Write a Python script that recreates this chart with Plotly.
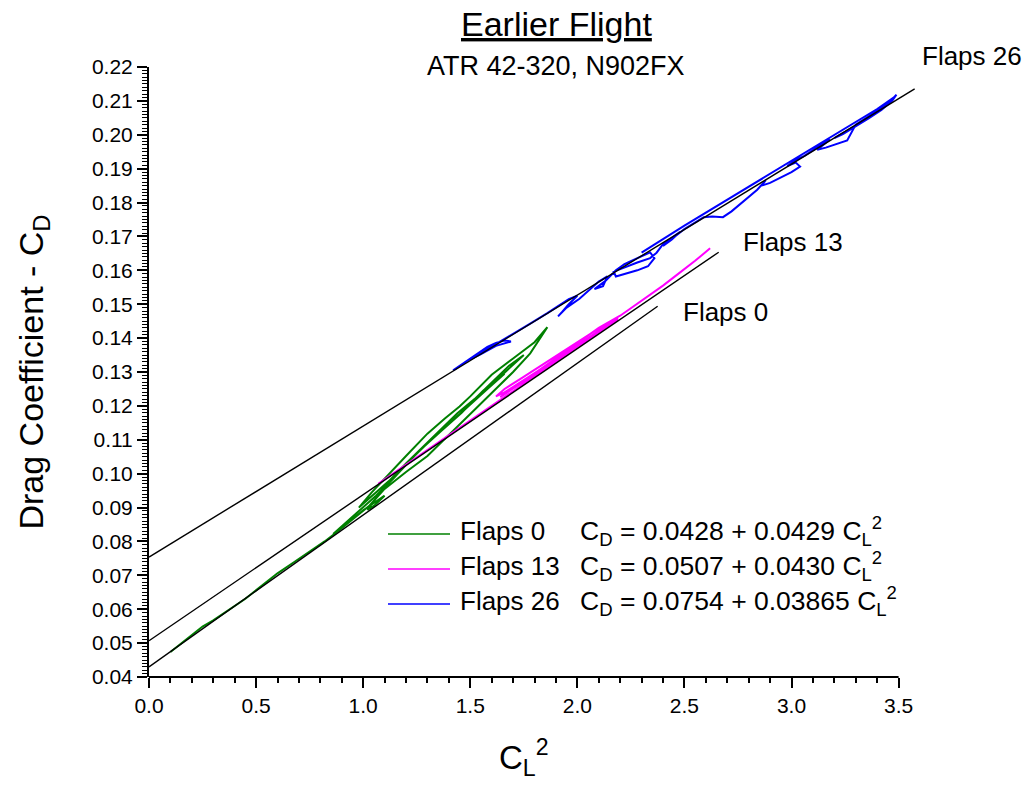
import plotly.graph_objects as go

FONT = "Liberation Sans, Arial, sans-serif"

series_names = ["Flaps 0", "Flaps 13", "Flaps 26"]
series_colors = ["#008000", "#FF00FF", "#0000FF"]

flaps0_x = [0.10, 0.15, 0.20, 0.25, 0.30, 0.38, 0.45, 0.52, 0.60, 0.68, 0.75, 0.82, 0.90, 0.97, 1.03,
            1.10, 1.20, 1.30, 1.40, 1.50, 1.60, 1.70, 1.78, 1.86,
            1.80, 1.70, 1.60, 1.50, 1.45, 1.38, 1.30, 1.20, 1.10, 1.04, 0.98,
            1.05, 1.12, 1.20, 1.28, 1.36, 1.44, 1.52, 1.60, 1.68, 1.75,
            1.66, 1.56, 1.46, 1.38, 1.30, 1.22, 1.14, 1.06, 1.00, 0.94, 0.86,
            0.92, 1.00, 1.06, 1.10, 1.05, 1.02,
            1.10, 1.18, 1.26, 1.34, 1.42, 1.50, 1.58, 1.66]
flaps0_y = [0.0474, 0.0499, 0.0526, 0.0549, 0.0567, 0.0601, 0.0631, 0.0666, 0.0706, 0.0740, 0.0769, 0.0800, 0.0839, 0.0875, 0.0906,
            0.0955, 0.1005, 0.1052, 0.1115, 0.1175, 0.1238, 0.1300, 0.1355, 0.1432,
            0.1388, 0.1340, 0.1292, 0.1228, 0.1198, 0.1162, 0.1118, 0.1052, 0.0985, 0.0945, 0.0900,
            0.0940, 0.0978, 0.1030, 0.1080, 0.1130, 0.1178, 0.1220, 0.1268, 0.1318, 0.1350,
            0.1298, 0.1245, 0.1180, 0.1135, 0.1090, 0.1040, 0.0985, 0.0935, 0.0902, 0.0868, 0.0822,
            0.0850, 0.0892, 0.0918, 0.0935, 0.0905, 0.0893,
            0.0962, 0.1012, 0.1066, 0.1112, 0.1160, 0.1205, 0.1250, 0.1295]

flaps13_x = [1.07, 1.15, 1.25, 1.35, 1.45, 1.55, 1.63, 1.72, 1.82, 1.92, 2.02, 2.12, 2.19,
             2.14, 2.06, 1.98, 1.90, 1.82, 1.74, 1.66, 1.62,
             1.66, 1.74, 1.82, 1.90, 1.98, 2.06, 2.14, 2.19,
             2.12, 2.04, 1.96, 1.88, 1.80, 1.72, 1.64,
             1.70, 1.80, 1.90, 2.00, 2.10, 2.20, 2.30, 2.40, 2.48, 2.55, 2.62]
flaps13_y = [0.0970, 0.1005, 0.1048, 0.1092, 0.1135, 0.1178, 0.1213, 0.1252, 0.1295, 0.1338, 0.1380, 0.1424, 0.1455,
             0.1445, 0.1412, 0.1380, 0.1347, 0.1315, 0.1282, 0.1250, 0.1228,
             0.1240, 0.1272, 0.1305, 0.1338, 0.1370, 0.1402, 0.1436, 0.1461,
             0.1430, 0.1395, 0.1360, 0.1326, 0.1292, 0.1260, 0.1226,
             0.1252, 0.1296, 0.1340, 0.1384, 0.1430, 0.1466, 0.1510, 0.1555, 0.1594, 0.1628, 0.1665]

flaps26_x = [1.42, 1.46, 1.50, 1.54, 1.58, 1.62, 1.66, 1.69,
             1.62, 1.55, 1.50,
             1.56, 1.62, 1.70, 1.78, 1.86, 1.92, 1.96, 2.00,
             1.96, 1.93, 1.91, 1.95, 2.01, 2.06, 2.10, 2.14,
             2.12, 2.08, 2.13, 2.18, 2.22, 2.26, 2.30, 2.34,
             2.36, 2.33, 2.28, 2.22, 2.18, 2.17, 2.22, 2.28, 2.34, 2.37,
             2.40, 2.45, 2.48, 2.44, 2.40, 2.45, 2.50, 2.55, 2.59,
             2.63, 2.68, 2.72, 2.76, 2.80, 2.84, 2.88,
             2.86, 2.90, 2.95, 3.00, 3.04, 3.02, 2.98,
             3.02, 3.06, 3.10, 3.14, 3.18,
             3.12, 3.16, 3.22, 3.26,
             3.30, 3.35, 3.40, 3.45, 3.49,
             3.47, 3.42, 3.36, 3.30, 3.24, 3.20, 3.28, 3.35, 3.42, 3.48,
             3.40, 3.30, 3.20, 3.10, 3.00, 2.90, 2.80, 2.70, 2.60, 2.50, 2.40, 2.30]
flaps26_y = [0.1305, 0.1322, 0.1340, 0.1358, 0.1374, 0.1386, 0.1393, 0.1390,
             0.1377, 0.1353, 0.1337,
             0.1360, 0.1382, 0.1412, 0.1443, 0.1474, 0.1500, 0.1515, 0.1525,
             0.1500, 0.1478, 0.1464, 0.1490, 0.1516, 0.1546, 0.1567, 0.1582,
             0.1553, 0.1545, 0.1568, 0.1600, 0.1618, 0.1630, 0.1642, 0.1653,
             0.1636, 0.1612, 0.1600, 0.1590, 0.1582, 0.1596, 0.1609, 0.1623, 0.1636, 0.1652,
             0.1677, 0.1701, 0.1714, 0.1690, 0.1672, 0.1697, 0.1722, 0.1742, 0.1757,
             0.1759, 0.1757, 0.1774, 0.1795, 0.1815, 0.1838, 0.1866,
             0.1850, 0.1858, 0.1874, 0.1890, 0.1906, 0.1918, 0.1908,
             0.1925, 0.1938, 0.1955, 0.1971, 0.1986,
             0.1956, 0.1962, 0.1974, 0.1983,
             0.2030, 0.2049, 0.2070, 0.2092, 0.2118,
             0.2100, 0.2073, 0.2048, 0.2024, 0.2002, 0.1990, 0.2018, 0.2045, 0.2079, 0.2111,
             0.2076, 0.2038, 0.2000, 0.1962, 0.1924, 0.1886, 0.1848, 0.1810, 0.1772, 0.1732, 0.1692, 0.1652]

# fitted lines drawn on the chart
fit_intercept = [0.0430, 0.0507, 0.0754]
fit_slope = [0.0448, 0.0431, 0.03865]
fit_x_end = [2.375, 2.66, 3.575]

equation_texts = [
    "C<sub>D</sub> = 0.0428 + 0.0429 C<sub>L</sub><sup>2</sup>",
    "C<sub>D</sub> = 0.0507 + 0.0430 C<sub>L</sub><sup>2</sup>",
    "C<sub>D</sub> = 0.0754 + 0.03865 C<sub>L</sub><sup>2</sup>",
]
fit_label_x = [2.483, 2.763, 3.60]
fit_label_y = [0.1476, 0.1683, 0.2233]

x_ticks = [0.0, 0.5, 1.0, 1.5, 2.0, 2.5, 3.0, 3.5]
x_minor_ticks = [0.1, 0.2, 0.3, 0.4, 0.6, 0.7, 0.8, 0.9, 1.1, 1.2, 1.3, 1.4, 1.6, 1.7, 1.8, 1.9,
                 2.1, 2.2, 2.3, 2.4, 2.6, 2.7, 2.8, 2.9, 3.1, 3.2, 3.3, 3.4]
y_ticks = [0.04, 0.05, 0.06, 0.07, 0.08, 0.09, 0.10, 0.11, 0.12, 0.13, 0.14, 0.15, 0.16, 0.17, 0.18,
           0.19, 0.20, 0.21, 0.22]

X_RANGE = [0.0, 3.6]
Y_RANGE = [0.04, 0.22]

data_x = [flaps0_x, flaps13_x, flaps26_x]
data_y = [flaps0_y, flaps13_y, flaps26_y]

fig = go.Figure()

for name, color, xs, ys in zip(series_names, series_colors, data_x, data_y):
    fig.add_trace(go.Scatter(x=xs, y=ys, mode="lines", name=name,
                             line=dict(color=color, width=2), showlegend=False))

for b0, b1, xe in zip(fit_intercept, fit_slope, fit_x_end):
    fig.add_trace(go.Scatter(x=[0.0, xe], y=[b0, b0 + b1 * xe], mode="lines",
                             line=dict(color="black", width=1.4), showlegend=False,
                             hoverinfo="skip"))


def y_frac(v):
    return (v - Y_RANGE[0]) / (Y_RANGE[1] - Y_RANGE[0])


annotations = []
for name, lx, ly in zip(series_names, fit_label_x, fit_label_y):
    annotations.append(dict(x=lx, y=y_frac(ly), xref="x", yref="paper", text=name, showarrow=False,
                            xanchor="left", yanchor="middle",
                            font=dict(family=FONT, size=26, color="black")))

# manual legend
plot_l, plot_r, plot_t, plot_b = 149, 920, 67, 677


def px_x(p):
    return (p - plot_l) / (plot_r - plot_l)


def px_y(p):
    return (plot_b - p) / (plot_b - plot_t)


legend_rows = [534, 569, 604]
shapes = []
for name, color, eq, row in zip(series_names, series_colors, equation_texts, legend_rows):
    shapes.append(dict(type="line", xref="paper", yref="paper",
                       x0=px_x(388), x1=px_x(450), y0=px_y(row), y1=px_y(row),
                       line=dict(color=color, width=1.6)))
    annotations.append(dict(x=px_x(458), y=px_y(row - 3), xref="paper", yref="paper", text=name,
                            showarrow=False, xanchor="left", yanchor="middle",
                            font=dict(family=FONT, size=26, color="black")))
    annotations.append(dict(x=px_x(578), y=px_y(row - 3), xref="paper", yref="paper", text=eq,
                            showarrow=False, xanchor="left", yanchor="middle",
                            font=dict(family=FONT, size=26.5, color="black")))

# x axis line, ending at 3.5
shapes.append(dict(type="line", xref="x domain", yref="y domain",
                   x0=0, x1=(x_ticks[-1] - X_RANGE[0]) / (X_RANGE[1] - X_RANGE[0]), y0=0, y1=0,
                   line=dict(color="black", width=2)))

# titles
annotations.append(dict(x=px_x(556), y=px_y(24), xref="paper", yref="paper",
                        text="<u>Earlier Flight</u>", showarrow=False,
                        xanchor="center", yanchor="middle",
                        font=dict(family=FONT, size=34, color="black")))
annotations.append(dict(x=px_x(556), y=px_y(66), xref="paper", yref="paper",
                        text="ATR 42-320, N902FX", showarrow=False,
                        xanchor="center", yanchor="middle",
                        font=dict(family=FONT, size=27, color="black")))
annotations.append(dict(x=px_x(524), y=px_y(758), xref="paper", yref="paper",
                        text="C<sub>L</sub><sup>2</sup>", showarrow=False,
                        xanchor="center", yanchor="middle",
                        font=dict(family=FONT, size=33, color="black")))

fig.update_layout(
    width=1030, height=786,
    margin=dict(l=plot_l, r=1030 - plot_r, t=plot_t, b=786 - plot_b, autoexpand=False),
    plot_bgcolor="white", paper_bgcolor="white",
    showlegend=False,
    shapes=shapes, annotations=annotations,
    font=dict(family=FONT, color="black"),
)

fig.update_xaxes(
    range=X_RANGE, showgrid=False, zeroline=False, showline=False,
    tickmode="array", tickvals=x_ticks, ticktext=["%.1f" % v for v in x_ticks],
    ticks="outside", ticklen=10, tickwidth=2, tickcolor="black",
    tickfont=dict(family=FONT, size=21, color="black"),
    minor=dict(tickmode="array", tickvals=x_minor_ticks, ticks="outside", ticklen=5,
               tickwidth=1.5, tickcolor="black"),
)
fig.update_yaxes(
    range=Y_RANGE, showgrid=False, zeroline=False, showline=True, linecolor="black", linewidth=2,
    tickmode="array", tickvals=y_ticks, ticktext=["%.2f" % v for v in y_ticks],
    ticks="outside", ticklen=10, tickwidth=2, tickcolor="black",
    tickfont=dict(family=FONT, size=21, color="black"),
    minor=dict(dtick=0.001, tick0=0.04, ticks="outside", ticklen=5, tickwidth=1, tickcolor="black"),
    title=dict(text="Drag Coefficient - C<sub>D</sub>", font=dict(family=FONT, size=34, color="black"),
               standoff=38),
)

fig.write_html("out.html")
